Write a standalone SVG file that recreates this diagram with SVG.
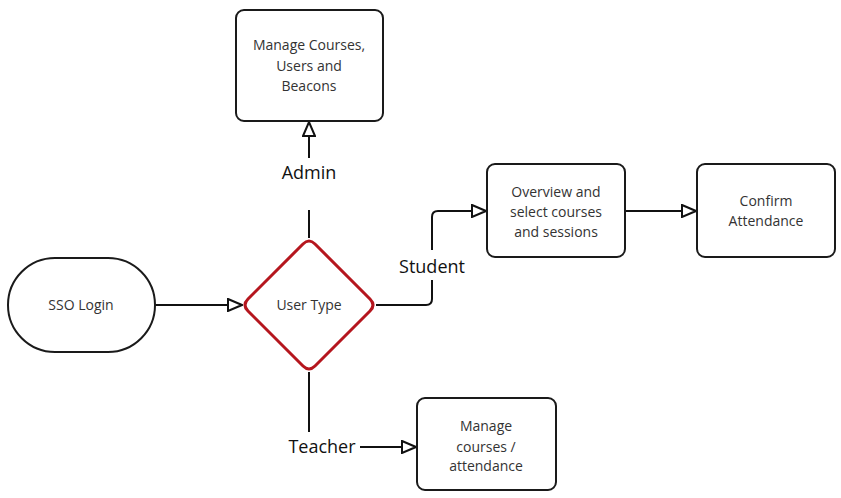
<svg xmlns="http://www.w3.org/2000/svg" width="841" height="498" viewBox="0 0 841 498">
<defs>
<style>
.box{fill:#fff;stroke:#1a1a1a;stroke-width:2}
.txt{font-family:"Open Sans","Liberation Sans",sans-serif;font-size:14px;fill:#333;text-anchor:middle}
.lbl{font-family:"Open Sans","Liberation Sans",sans-serif;font-size:18px;fill:#111;text-anchor:middle}
.conn{fill:none;stroke:#111;stroke-width:2}
</style>
<marker id="arr" viewBox="0 0 16 14" refX="15" refY="7" markerWidth="16" markerHeight="14" markerUnits="userSpaceOnUse" orient="auto">
<path d="M1,1 L15,7 L1,13 Z" fill="#fff" stroke="#111" stroke-width="2" stroke-linejoin="miter"/>
</marker>
</defs>
<rect width="841" height="498" fill="#fff"/>
<g id="connectors">
<path class="conn" d="M155,305 H242" marker-end="url(#arr)"/>
<path class="conn" d="M309,158 V122" marker-end="url(#arr)"/>
<path class="conn" d="M309,210 V238"/>
<path class="conn" d="M376,305 H426 Q432,305 432,299 V280"/>
<path class="conn" d="M432,250 V217 Q432,211 438,211 H486" marker-end="url(#arr)"/>
<path class="conn" d="M625,211 H696" marker-end="url(#arr)"/>
<path class="conn" d="M309,372 V432"/>
<path class="conn" d="M360,447 H416" marker-end="url(#arr)"/>
<text class="lbl" x="309" y="179">Admin</text>
<text class="lbl" x="432" y="273">Student</text>
<text class="lbl" x="322" y="453">Teacher</text>
</g>
<g id="sso">
<rect class="box" x="8" y="258" width="147" height="94" rx="47"/>
<text class="txt" x="81" y="310">SSO Login</text>
</g>
<g id="usertype">
<path d="M303,244 Q309,238 315,244 L370,299 Q376,305 370,311 L315,366 Q309,372 303,366 L248,311 Q242,305 248,299 Z" fill="#fff" stroke="#b5161e" stroke-width="3"/>
<text class="txt" x="309" y="310">User Type</text>
</g>
<g id="admin">
<rect class="box" x="236" y="10" width="147" height="111" rx="8"/>
<text class="txt" x="309" y="50">Manage Courses,</text>
<text class="txt" x="309" y="71">Users and</text>
<text class="txt" x="309" y="91">Beacons</text>
</g>
<g id="overview">
<rect class="box" x="487" y="164" width="138" height="93" rx="8"/>
<text class="txt" x="556" y="197">Overview and</text>
<text class="txt" x="556" y="217">select courses</text>
<text class="txt" x="556" y="237">and sessions</text>
</g>
<g id="confirm">
<rect class="box" x="697" y="164" width="138" height="93" rx="8"/>
<text class="txt" x="766" y="206">Confirm</text>
<text class="txt" x="766" y="226">Attendance</text>
</g>
<g id="teacher">
<rect class="box" x="417" y="398" width="139" height="92" rx="8"/>
<text class="txt" x="486" y="431">Manage</text>
<text class="txt" x="486" y="452">courses /</text>
<text class="txt" x="486" y="471">attendance</text>
</g>
</svg>
